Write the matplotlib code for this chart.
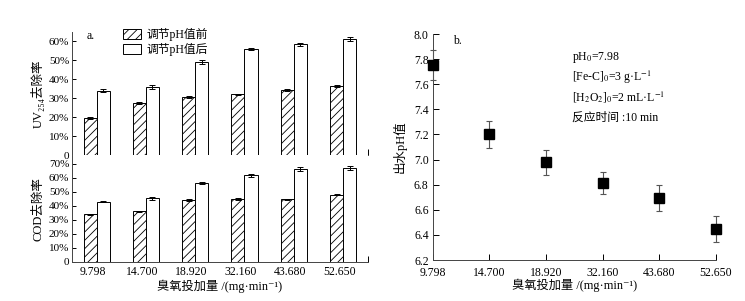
import numpy as np
import matplotlib
matplotlib.use('Agg')
import matplotlib.pyplot as plt

plt.rcParams['font.family'] = ['Liberation Serif', 'Noto Sans CJK SC', 'DejaVu Serif']
plt.rcParams['mathtext.fontset'] = 'stix'
plt.rcParams['font.size'] = 8
plt.rcParams['hatch.linewidth'] = 0.6

doses = ['9.798', '14.700', '18.920', '32.160', '43.680', '52.650']

# UV254 removal (%)
uv_before = [19.4, 27.3, 30.7, 32.1, 34.4, 36.4]
uv_before_err = [0.6, 0.6, 0.5, 0.3, 0.5, 0.5]
uv_after = [33.9, 36.0, 49.2, 55.9, 58.4, 61.2]
uv_after_err = [0.8, 0.9, 0.9, 0.4, 1.0, 1.2]

# COD removal (%)
cod_before = [34.0, 36.0, 44.0, 44.8, 44.5, 48.0]
cod_before_err = [0.4, 0.3, 0.6, 0.5, 0.6, 0.3]
cod_after = [43.0, 45.4, 56.2, 61.8, 66.2, 66.9]
cod_after_err = [0.6, 1.0, 0.6, 1.0, 1.3, 1.3]

# effluent pH
ph = [7.75, 7.20, 6.98, 6.815, 6.695, 6.445]
ph_err = [0.12, 0.11, 0.10, 0.09, 0.105, 0.105]

xlabel = '臭氧投加量 /(mg·min⁻¹)'

fig = plt.figure(figsize=(7.45, 3.01), dpi=100)
ax1 = fig.add_axes([0.0966, 0.485, 0.397, 0.409])
ax2 = fig.add_axes([0.0966, 0.1296, 0.397, 0.355])
ax3 = fig.add_axes([0.581, 0.136, 0.380, 0.751])

x = np.arange(len(doses))
w = 0.265
ekw = dict(ecolor='black', elinewidth=0.7, capsize=2.2, capthick=0.7)


def draw_bars(ax, before, be, after, ae, ymax, ticks):
    ax.bar(x - w / 2, before, w, yerr=be, color='white', edgecolor='black',
           hatch='////', linewidth=0.7, error_kw=ekw, label='调节pH值前')
    ax.bar(x + w / 2, after, w, yerr=ae, color='white', edgecolor='black',
           linewidth=0.7, error_kw=ekw, label='调节pH值后')
    ax.set_xlim(-0.5, 5.5)
    ax.set_ylim(0, ymax)
    ax.set_yticks(ticks)
    ax.set_yticklabels(['0'] + ['%d%%' % t for t in ticks[1:]], fontsize=8)
    ax.spines['top'].set_visible(False)
    ax.spines['right'].set_visible(False)
    for s in ['left', 'bottom']:
        ax.spines[s].set_linewidth(0.7)
        ax.spines[s].set_color('#444444')
    ax.tick_params(axis='y', direction='in', length=3, width=0.7, pad=2)
    ax.set_xticks([5.5], minor=True)
    ax.tick_params(axis='x', which='minor', direction='in', length=4, width=0.7)


draw_bars(ax1, uv_before, uv_before_err, uv_after, uv_after_err, 65, [0, 10, 20, 30, 40, 50, 60])
ax1.set_xticks([])
ax1.set_ylabel('UV₂₅₄去除率', fontsize=9, labelpad=3)
ax1.text(0.05, 0.94, 'a.', transform=ax1.transAxes, fontsize=8.5)
ax1.legend(loc='upper left', bbox_to_anchor=(0.155, 1.07), frameon=False, fontsize=8.5,
           handlelength=1.6, handleheight=0.9, handletextpad=0.4, labelspacing=0.15,
           borderaxespad=0)

draw_bars(ax2, cod_before, cod_before_err, cod_after, cod_after_err, 76, [0, 10, 20, 30, 40, 50, 60, 70])
ax2.set_xticks(x - 0.08)
ax2.set_xticklabels(doses, fontsize=8.5)
ax2.tick_params(axis='x', which='major', length=0, pad=3)
ax2.set_ylabel('COD去除率', fontsize=9, labelpad=3)
ax2.set_xlabel(xlabel, fontsize=8.8, labelpad=1)

# panel b
ax3.errorbar(x, ph, yerr=ph_err, fmt='s', color='black', markersize=7,
             ecolor='#555555', elinewidth=0.8, capsize=2.5, capthick=0.8, clip_on=False, zorder=5)
ax3.set_xlim(0, 5)
ax3.set_ylim(6.2, 8.0)
ax3.set_xticks(x)
ax3.set_xticklabels(doses, fontsize=8.5)
ax3.set_yticks(np.arange(6.2, 8.01, 0.2))
ax3.set_yticklabels(['%.1f' % v for v in np.arange(6.2, 8.01, 0.2)], fontsize=8.5)
ax3.spines['top'].set_visible(False)
ax3.spines['right'].set_visible(False)
for s in ['left', 'bottom']:
    ax3.spines[s].set_linewidth(0.7)
    ax3.spines[s].set_color('#444444')
ax3.tick_params(direction='in', length=4, width=0.7, pad=3)
ax3.tick_params(axis='x', pad=5)
ax3.set_ylabel('出水pH值', fontsize=9, labelpad=5)
ax3.set_xlabel(xlabel, fontsize=8.8, labelpad=0)
ax3.text(0.07, 0.955, 'b.', transform=ax3.transAxes, fontsize=8.5)

notes = ['pH$_0$=7.98', '[Fe-C]$_0$=3 g·L$^{-1}$',
         '[H$_2$O$_2$]$_0$=2 mL·L$^{-1}$', '反应时间 :10 min']
for i, t in enumerate(notes):
    ax3.text(0.49, 0.895 - i * 0.088, t, transform=ax3.transAxes, fontsize=8.5, va='center')

fig.savefig('out.png', dpi=100)
